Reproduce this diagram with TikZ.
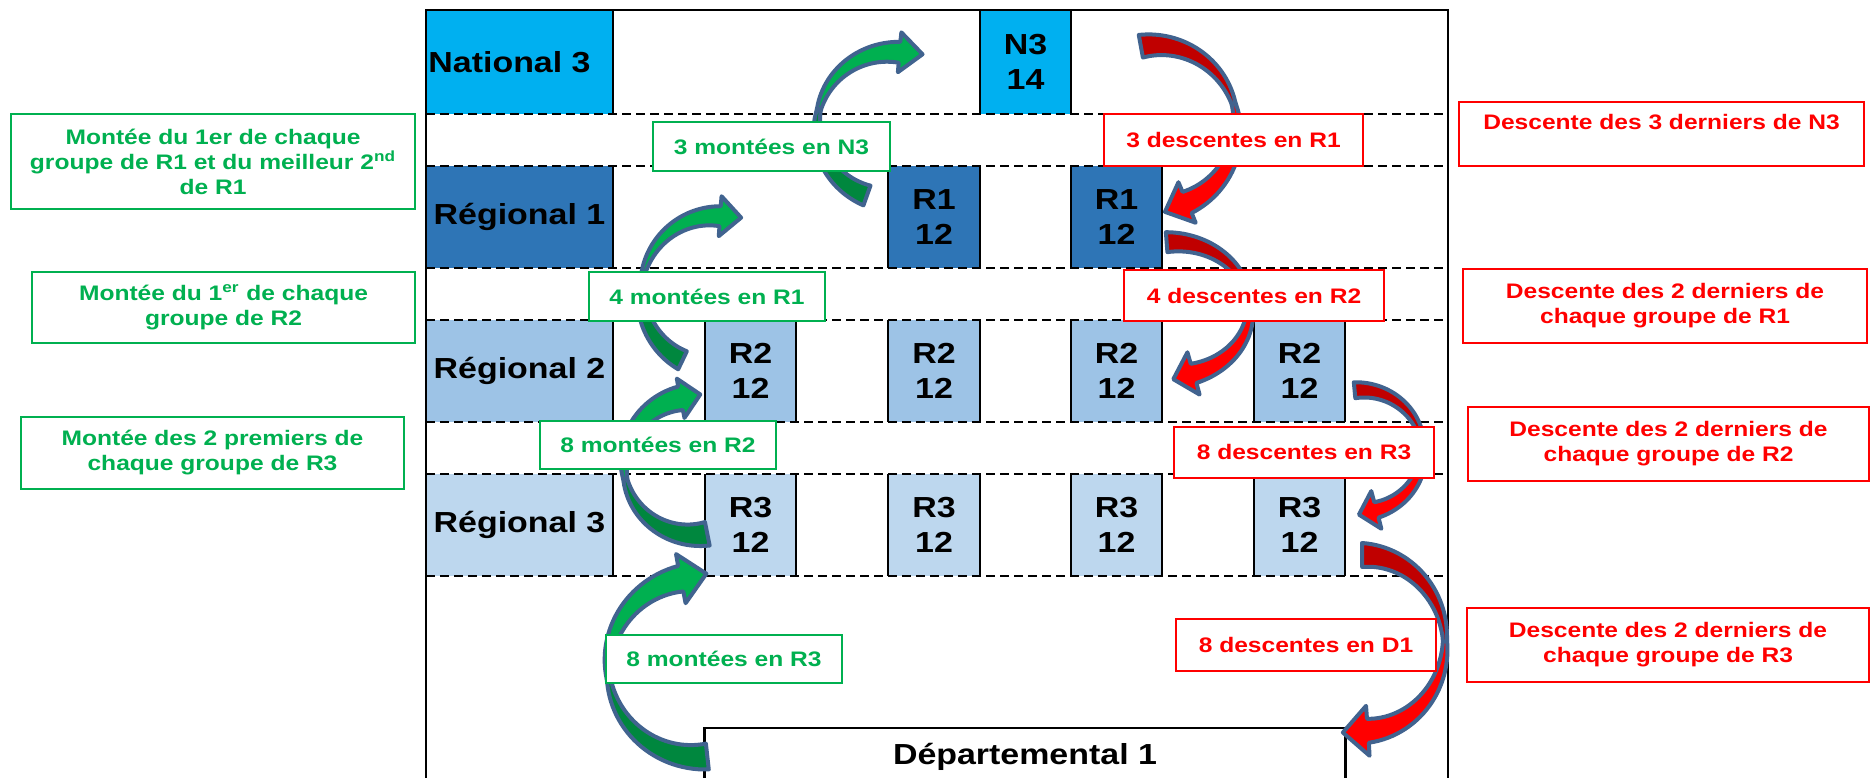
\documentclass[tikz,border=0pt]{standalone}
\usepackage{fontspec}
\setmainfont{Liberation Sans}[FakeStretch=1.17]
\definecolor{ncyan}{HTML}{00B0F0}
\definecolor{rone}{HTML}{2E75B6}
\definecolor{rtwo}{HTML}{9DC3E6}
\definecolor{rthree}{HTML}{BDD7EE}
\definecolor{mgreen}{HTML}{00B050}
\definecolor{dgreen}{HTML}{00873E}
\definecolor{mred}{HTML}{FF0000}
\definecolor{dred}{HTML}{C00000}
\definecolor{aline}{HTML}{41638F}
\newcommand\bigfnt{\bfseries\fontsize{14.5}{17.5}\selectfont}
\newcommand\smallfnt{\bfseries\fontsize{10.5}{12.5}\selectfont}
\def\frontcol{mgreen}
\def\backcol{dgreen}
% #1 cx #2 cy #3 rx #4 ry #5 tail angle #6 head angle #7 half width #8 head half width #9 head length
\newcommand\bentarrow[9]{%
 \pgfmathsetmacro\hx{#1+#3*cos(#6)}%
 \pgfmathsetmacro\hy{#2+#4*sin(#6)}%
 \pgfmathsetmacro\bax{\hx+#8*cos(#6)}%
 \pgfmathsetmacro\bay{\hy+#8*sin(#6)}%
 \pgfmathsetmacro\bbx{\hx-#8*cos(#6)}%
 \pgfmathsetmacro\bby{\hy-#8*sin(#6)}%
 \pgfmathsetmacro\tipx{\hx-#9*sin(#6)}%
 \pgfmathsetmacro\tipy{\hy+#9*cos(#6)}%
 \begin{scope}[declare function={wda(\s)=2+(#7-2)*abs(2*\s-1); arga(\s)=#5+(#6-#5)*\s;
   oxa(\s)=#1+(#3+wda(\s))*cos(arga(\s)); oya(\s)=#2+(#4+wda(\s))*sin(arga(\s));
   ixa(\s)=#1+(#3-wda(\s))*cos(arga(\s)); iya(\s)=#2+(#4-wda(\s))*sin(arga(\s));}]
 \fill[fill=\backcol] plot[domain=0:0.5,samples=30] ({oxa(\x)},{oya(\x)}) -- plot[domain=0.5:0,samples=30] ({ixa(\x)},{iya(\x)}) -- cycle;
 \fill[fill=\frontcol] plot[domain=0.5:1,samples=30] ({oxa(\x)},{oya(\x)}) -- (\bax,\bay) -- (\tipx,\tipy) -- (\bbx,\bby) -- plot[domain=1:0.5,samples=30] ({ixa(\x)},{iya(\x)}) -- cycle;
 \draw[arrowline] plot[domain=0:1,samples=60] ({oxa(\x)},{oya(\x)}) -- (\bax,\bay) -- (\tipx,\tipy) -- (\bbx,\bby) -- plot[domain=1:0,samples=60] ({ixa(\x)},{iya(\x)}) -- cycle;
 \end{scope}%
}
\tikzset{
  cellbox/.style={inner sep=0pt, outer sep=0pt, align=center, font=\bigfnt, text=black},
  vline/.style={line width=1.25pt, black},
  hdash/.style={line width=1.25pt, black, dash pattern=on 4.5pt off 2.5pt},
  frame/.style={line width=1.4pt, black},
  arrowline/.style={draw=aline, line width=2pt, line join=round},
  glabel/.style={draw=mgreen, line width=0.9pt, fill=white, text=mgreen, font=\smallfnt, inner sep=0pt, align=center},
  rlabel/.style={draw=mred, line width=1pt, fill=white, text=mred, font=\smallfnt, inner sep=0pt, align=center},
  gside/.style={draw=mgreen, line width=1pt, fill=white, text=mgreen, font=\smallfnt, inner sep=0pt, align=center},
  rside/.style={draw=mred, line width=1.2pt, fill=white, text=mred, font=\smallfnt, inner sep=0pt, align=center},
}
\begin{document}
\begin{tikzpicture}[x=0.5pt,y=-0.5pt]
\useasboundingbox (0,0) rectangle (1870,777);
\clip (0,0) rectangle (1870,777);
% ---- cells
\node[cellbox, fill=ncyan, minimum width=93.5pt, minimum height=52pt] (labN) at (519.5,62) {National 3\hspace{10pt}};
\node[cellbox, fill=ncyan, minimum width=45.5pt, minimum height=52pt] (boxN) at (1025.5,62) {N3\\14};
\node[cellbox, fill=rone, minimum width=93.5pt, minimum height=51pt] (labR1) at (519.5,217) {Régional 1};
\node[cellbox, fill=rone, minimum width=46pt, minimum height=51pt] (r1a) at (934,217) {R1\\12};
\node[cellbox, fill=rone, minimum width=45.5pt, minimum height=51pt] (r1b) at (1116.5,217) {R1\\12};
\node[cellbox, fill=rtwo, minimum width=93.5pt, minimum height=51pt] (labR2) at (519.5,371) {Régional 2};
\node[cellbox, fill=rtwo, minimum width=45.5pt, minimum height=51pt] (r2a) at (750.5,371) {R2\\12};
\node[cellbox, fill=rtwo, minimum width=46pt, minimum height=51pt] (r2b) at (934,371) {R2\\12};
\node[cellbox, fill=rtwo, minimum width=45.5pt, minimum height=51pt] (r2c) at (1116.5,371) {R2\\12};
\node[cellbox, fill=rtwo, minimum width=45.5pt, minimum height=51pt] (r2d) at (1299.5,371) {R2\\12};
\node[cellbox, fill=rthree, minimum width=93.5pt, minimum height=51pt] (labR3) at (519.5,525) {Régional 3};
\node[cellbox, fill=rthree, minimum width=45.5pt, minimum height=51pt] (r3a) at (750.5,525) {R3\\12};
\node[cellbox, fill=rthree, minimum width=46pt, minimum height=51pt] (r3b) at (934,525) {R3\\12};
\node[cellbox, fill=rthree, minimum width=45.5pt, minimum height=51pt] (r3c) at (1116.5,525) {R3\\12};
\node[cellbox, fill=rthree, minimum width=45.5pt, minimum height=51pt] (r3d) at (1299.5,525) {R3\\12};
% ---- solid vertical edges
\draw[vline] (labN.north east) -- (labN.south east);
\draw[vline] (boxN.north west) -- (boxN.south west);
\draw[vline] (boxN.north east) -- (boxN.south east);
\foreach \n in {labR1,labR2,labR3} \draw[vline] (\n.north east) -- (\n.south east);
\foreach \n in {r1a,r1b,r2a,r2b,r2c,r2d,r3a,r3b,r3c,r3d} {
  \draw[vline] (\n.north west) -- (\n.south west);
  \draw[vline] (\n.north east) -- (\n.south east);
}
% ---- dashed row separators
\foreach \y in {114,166,268,320,422,474,576} \draw[hdash] (426,\y) -- (1448,\y);
% ---- frame
\coordinate (fbl) at (426,790);
\coordinate (fbr) at (1448,790);
\draw[frame] (fbl) |- (1448,10) -- (fbr);
% ---- Departemental 1
\node[inner sep=0pt, minimum width=320pt, minimum height=35pt, anchor=north] (depbox) at (1025,728) {};
\draw[vline] (depbox.south west) |- (depbox.north east) -- (depbox.south east);
\node[font=\bigfnt] (dep) at (1025,757) {Départemental 1};
% ---- arrows
\def\frontcol{mgreen}\def\backcol{dgreen}
\bentarrow{893}{126}{76}{74}{110}{275}{10.5}{20}{23}
\bentarrow{715}{292}{74}{76}{116}{274}{10}{20}{21}
\bentarrow{694}{466}{70}{69}{79}{259}{12}{20}{20}
\bentarrow{698}{667}{90}{90}{84}{259}{13}{25}{26}
\def\frontcol{mred}\def\backcol{dred}
\bentarrow{1155}{127}{82}{82}{260}{427}{11.5}{22}{24}
\bentarrow{1172}{309}{78}{67}{266}{434}{10}{22}{21}
\bentarrow{1360}{451}{63}{61}{265}{435}{8}{19.5}{18}
\bentarrow{1362}{643}{83}{88}{270}{446}{12}{25}{25}
% ---- middle labels
\node[glabel, minimum width=118.5pt, minimum height=24.5pt] (m1) at (771.5,146.5) {3 montées en N3};
\node[glabel, minimum width=118pt, minimum height=24.5pt] (m2) at (707,296.5) {4 montées en R1};
\node[glabel, minimum width=118pt, minimum height=24pt] (m3) at (658,445) {8 montées en R2};
\node[glabel, minimum width=118pt, minimum height=24pt] (m4) at (724,659) {8 montées en R3};
\node[rlabel, minimum width=129.5pt, minimum height=26pt] (d1) at (1233.5,140) {3 descentes en R1};
\node[rlabel, minimum width=130pt, minimum height=25.5pt] (d2) at (1254,295.5) {4 descentes en R2};
\node[rlabel, minimum width=130pt, minimum height=25.5pt] (d3) at (1304,452.5) {8 descentes en R3};
\node[rlabel, minimum width=130pt, minimum height=26pt] (d4) at (1306,645) {8 descentes en D1};
% ---- side boxes
\node[gside, minimum width=202pt, minimum height=47.5pt] (sa) at (213,161.5) {Montée du 1er de chaque\\groupe de R1 et du meilleur 2\textsuperscript{nd}\\de R1};
\node[gside, minimum width=191.5pt, minimum height=35.5pt] (sb) at (223.5,307.5) {Montée du 1\textsuperscript{er} de chaque\\groupe de R2};
\node[gside, minimum width=191.5pt, minimum height=36pt] (sc) at (212.5,453) {Montée des 2 premiers de\\chaque groupe de R3};
\node[rside, minimum width=202.5pt, minimum height=32pt] (sd) at (1661.5,134) {Descente des 3 derniers de N3\\\phantom{X}};
\node[rside, minimum width=202pt, minimum height=37pt] (se) at (1665,306) {Descente des 2 derniers de\\chaque groupe de R1};
\node[rside, minimum width=200.5pt, minimum height=37pt] (sf) at (1668.5,444) {Descente des 2 derniers de\\chaque groupe de R2};
\node[rside, minimum width=201pt, minimum height=37pt] (sg) at (1668,645) {Descente des 2 derniers de\\chaque groupe de R3};
\end{tikzpicture}
\end{document}
